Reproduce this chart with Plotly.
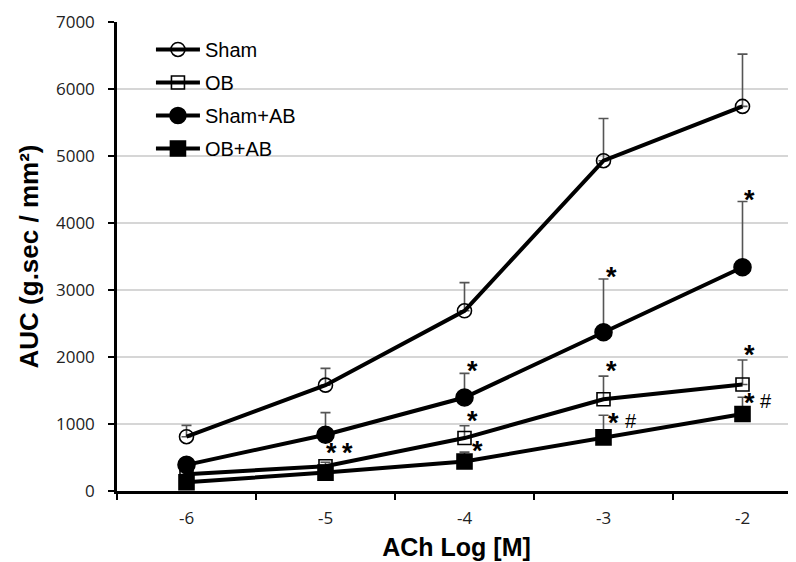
import plotly.graph_objects as go

x_vals = [-6, -5, -4, -3, -2]
x_labels = ["-6", "-5", "-4", "-3", "-2"]

sham = [810, 1580, 2690, 4930, 5740]
sham_err = [170, 250, 420, 630, 780]
ob = [250, 370, 790, 1370, 1590]
ob_err = [40, 60, 185, 345, 365]
sham_ab = [390, 840, 1395, 2370, 3340]
sham_ab_err = [100, 330, 360, 795, 980]
ob_ab = [130, 275, 440, 800, 1150]
ob_ab_err = [20, 30, 140, 330, 250]

series = [
    ("Sham", sham, sham_err, "circle-open", 14),
    ("OB", ob, ob_err, "square-open", 13),
    ("Sham+AB", sham_ab, sham_ab_err, "circle", 17),
    ("OB+AB", ob_ab, ob_ab_err, "square", 15),
]

# significance marks: (x position, y position, text)
sig_marks = [
    (-4.96, 612, "*"), (-4.84, 612, "*"),
    (-3.94, 1836, "*"), (-3.94, 1090, "*"), (-3.91, 642, "*"),
    (-2.94, 3239, "*"), (-2.94, 1836, "*"), (-2.93, 1060, "*"), (-2.80, 1080, "#"),
    (-1.95, 4388, "*"), (-1.95, 2075, "*"), (-1.95, 1358, "*"), (-1.83, 1378, "#"),
]

fig = go.Figure()
for i, (name, vals, errs, sym, size) in enumerate(series):
    fig.add_trace(go.Scatter(
        x=x_vals, y=vals, name=name, mode="lines+markers",
        legendgroup=f"g{i}",
        line=dict(color="black", width=4),
        marker=dict(symbol=sym, size=size, color="black",
                    line=dict(color="black", width=1.6)),
        error_y=dict(type="data", symmetric=False, array=errs,
                     arrayminus=[0] * len(errs), color="#555555",
                     thickness=1.6, width=5),
    ))

for xa, ya, t in sig_marks:
    fig.add_annotation(x=xa, y=ya, text="<b>" + t + "</b>" if t == "*" else t,
                       showarrow=False,
                       font=dict(family="Arial", size=27 if t == "*" else 20,
                                 color="black"),
                       xanchor="center", yanchor="middle",
                       yshift=-3 if t == "*" else -2)

fig.update_layout(
    width=796, height=562,
    margin=dict(l=109, r=8, t=14, b=79),
    paper_bgcolor="white", plot_bgcolor="white",
    showlegend=True,
    legend=dict(x=0.05, y=0.983, xanchor="left", yanchor="top",
                font=dict(family="Arial", size=20, color="black"),
                tracegroupgap=4, itemwidth=44, bgcolor="rgba(0,0,0,0)"),
    xaxis=dict(
        range=[-6.5, -6.5 + 679 / 139],
        tickvals=x_vals, ticktext=x_labels, ticks="",
        tickfont=dict(family="Open Sans", size=17, color="#222222"),
        ticklabelstandoff=10,
        showline=True, linecolor="black", linewidth=2.5,
        showgrid=False, zeroline=False, automargin=False,
        minor=dict(tick0=-6.5, dtick=1, ticks="outside", ticklen=6,
                   tickcolor="black", tickwidth=2, showgrid=False),
        title=dict(text="<b>ACh Log [M]</b>",
                   font=dict(family="Arial", size=25, color="black"), standoff=11),
    ),
    yaxis=dict(
        range=[0, 7000], tickvals=[0, 1000, 2000, 3000, 4000, 5000, 6000, 7000],
        ticks="outside", ticklen=6, tickcolor="black", tickwidth=2,
        tickfont=dict(family="Open Sans", size=17, color="#222222"),
        ticklabelstandoff=10,
        showline=True, linecolor="black", linewidth=2.5,
        showgrid=True, gridcolor="#d6d6d6", gridwidth=1.5, zeroline=False,
        automargin=False,
        title=dict(text="<b>AUC (g.sec / mm²)</b>",
                   font=dict(family="Arial", size=26, color="black"), standoff=10),
    ),
)

fig.write_html("out.html")
